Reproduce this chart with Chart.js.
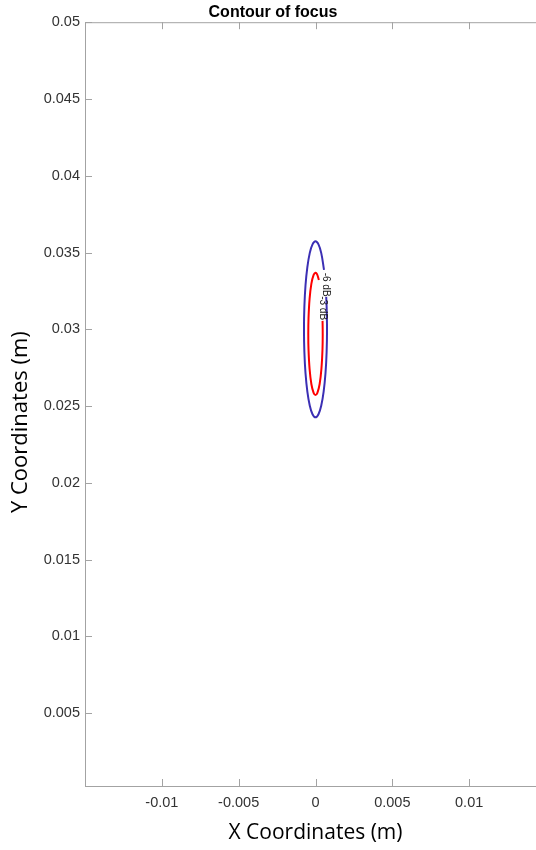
<!DOCTYPE html>
<html>
<head>
<meta charset="utf-8">
<title>Contour of focus</title>
<script src="https://cdn.jsdelivr.net/npm/chart.js@4.4.1/dist/chart.umd.min.js"></script>
<style>
    html, body { margin: 0; padding: 0; background: #fff; overflow: hidden; }
    #wrap { width: 560px; height: 850px; }
</style>
</head>
<body>
<div id="wrap"><canvas id="focusChart"></canvas></div>
<script>
// Contour -6 dB (blu); il tratto si interrompe dove c'e' l'etichetta
const sixDbX = [0.000553, 0.000375, 0.000194, 0, -0.000194, -0.000375, -0.00053, -0.00065, -0.000724, -0.00075,
    -0.000724, -0.00065, -0.00053, -0.000375, -0.000194, 0, 0.000194, 0.000375, 0.00053, 0.00065,
    0.000724, 0.00075, 0.000724, 0.000697];
const sixDbY = [0.03387, 0.03496, 0.03553, 0.03573, 0.03553, 0.03496, 0.03405, 0.03287, 0.03148, 0.03,
    0.02852, 0.02714, 0.02595, 0.02504, 0.02447, 0.02427, 0.02447, 0.02504, 0.02595, 0.02714,
    0.02852, 0.03, 0.03148, 0.03211];

// Contour -3 dB (rosso)
const threeDbX = [0.00022, 0.000098, 0, -0.000122, -0.00027, -0.000385, -0.000454, -0.00047, -0.000454, -0.000385,
    -0.00027, -0.000122, 0, 0.000122, 0.00027, 0.000385, 0.000454, 0.00047, 0.000459];
const threeDbY = [0.03321, 0.03359, 0.03368, 0.03354, 0.03296, 0.03198, 0.03073, 0.0297, 0.02867, 0.02742,
    0.02644, 0.02586, 0.02572, 0.02586, 0.02644, 0.02742, 0.02867, 0.0297, 0.03055];

// Etichette dei contorni (coordinate in metri)
const labelText = ['-6 dB', '-3 dB'];
const labelX = [0.00067, 0.00046];
const labelY = [0.03291, 0.03138];

// Tick degli assi
const xTicks = [-0.01, -0.005, 0, 0.005, 0.01];
const yTicks = [0.005, 0.01, 0.015, 0.02, 0.025, 0.03, 0.035, 0.04, 0.045, 0.05];
const xRange = [-0.015, 0.015];
const yRange = [0.00026, 0.05];

function toPoints(xs, ys) {
    return xs.map((x, i) => ({ x: x, y: ys[i] }));
}

const tickFont = { family: '"Liberation Sans", Arial, sans-serif', size: 14.5 };

// Cornice, tacche interne, etichette dei contorni e titoli degli assi
const framePlugin = {
    id: 'framePlugin',
    afterDraw(chart) {
        const { ctx, chartArea: a, scales: { x, y } } = chart;
        ctx.save();
        ctx.strokeStyle = '#a3a3a3';
        ctx.lineWidth = 1;
        ctx.strokeRect(a.left + 0.5, a.top + 0.5, a.right - a.left, a.bottom - a.top);
        ctx.beginPath();
        x.ticks.forEach(t => {
            const px = Math.round(x.getPixelForValue(t.value)) + 0.5;
            ctx.moveTo(px, a.bottom);
            ctx.lineTo(px, a.bottom - 7);
            ctx.moveTo(px, a.top);
            ctx.lineTo(px, a.top + 7);
        });
        y.ticks.forEach(t => {
            const py = Math.round(y.getPixelForValue(t.value)) + 0.5;
            ctx.moveTo(a.left, py);
            ctx.lineTo(a.left + 7, py);
            ctx.moveTo(a.right, py);
            ctx.lineTo(a.right - 7, py);
        });
        ctx.stroke();

        // etichette -6 dB / -3 dB ruotate lungo il contorno
        ctx.fillStyle = '#1a1a1a';
        ctx.font = '10px "Liberation Sans", Arial, sans-serif';
        ctx.textAlign = 'center';
        ctx.textBaseline = 'middle';
        labelText.forEach((txt, i) => {
            ctx.save();
            ctx.translate(x.getPixelForValue(labelX[i]), y.getPixelForValue(labelY[i]));
            ctx.rotate(Math.PI / 2);
            ctx.fillText(txt, 0, 0);
            ctx.restore();
        });

        // titoli degli assi
        ctx.fillStyle = '#000';
        ctx.font = '21px "Open Sans", sans-serif';
        ctx.fillText('X Coordinates (m)', (a.left + a.right) / 2, a.bottom + 47);
        ctx.save();
        ctx.font = '22px "Open Sans", sans-serif';
        ctx.translate(21, (a.top + a.bottom) / 2 + 18);
        ctx.rotate(-Math.PI / 2);
        ctx.fillText('Y Coordinates (m)', 0, 0);
        ctx.restore();
        ctx.restore();
    }
};

const ctx = document.getElementById('focusChart').getContext('2d');
const chart = new Chart(ctx, {
    type: 'scatter',
    data: {
        datasets: [
            {
                label: '-6 dB',
                data: toPoints(sixDbX, sixDbY),
                borderColor: '#3b2fb4',
                borderWidth: 2,
                showLine: true,
                tension: 0.4,
                pointRadius: 0,
                fill: false
            },
            {
                label: '-3 dB',
                data: toPoints(threeDbX, threeDbY),
                borderColor: '#ff0000',
                borderWidth: 2,
                showLine: true,
                tension: 0.4,
                pointRadius: 0,
                fill: false
            }
        ]
    },
    options: {
        responsive: true,
        maintainAspectRatio: false,
        animation: false,
        layout: { padding: { right: 14 } },
        plugins: {
            legend: { display: false },
            tooltip: { enabled: false },
            title: {
                display: true,
                text: 'Contour of focus',
                color: '#000',
                font: { family: '"Liberation Sans", Arial, sans-serif', size: 16, weight: 'bold' },
                padding: { top: 3, bottom: 0 }
            }
        },
        scales: {
            x: {
                type: 'linear',
                min: xRange[0],
                max: xRange[1],
                grid: { display: false, drawTicks: false },
                border: { display: false },
                afterBuildTicks: scale => { scale.ticks = xTicks.map(v => ({ value: v })); },
                afterFit: scale => { scale.height = 64; },
                ticks: {
                    color: '#333',
                    font: tickFont,
                    padding: 8,
                    maxRotation: 0,
                    autoSkip: false,
                    callback: v => String(v)
                }
            },
            y: {
                type: 'linear',
                min: yRange[0],
                max: yRange[1],
                grid: { display: false, drawTicks: false },
                border: { display: false },
                afterBuildTicks: scale => { scale.ticks = yTicks.map(v => ({ value: v })); },
                afterFit: scale => { scale.width = 85; },
                ticks: {
                    color: '#333',
                    font: tickFont,
                    padding: 5,
                    autoSkip: false,
                    callback: v => String(v)
                }
            }
        }
    },
    plugins: [framePlugin]
});
</script>
</body>
</html>
